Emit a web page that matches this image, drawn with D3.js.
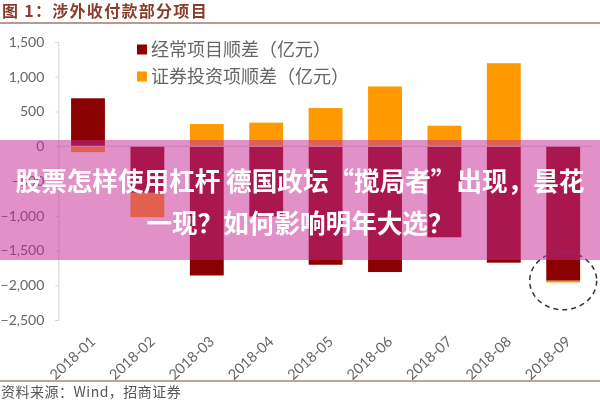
<!DOCTYPE html>
<html><head><meta charset="utf-8">
<script src="https://cdn.jsdelivr.net/npm/d3@7"></script>
<style>html,body{margin:0;padding:0;background:#fff}svg{display:block}</style>
</head><body><svg id="c" width="600" height="400"></svg>
<script>
const months = ["2018-01","2018-02","2018-03","2018-04","2018-05","2018-06","2018-07","2018-08","2018-09"];
const currentAccount = [690,-670,-1860,-1010,-1705,-1810,-1310,-1675,-1935];
const securities = [-85,-350,320,340,550,860,295,1195,-25];
const seriesNames = ["经常项目顺差（亿元）","证券投资项顺差（亿元）"];
const seriesColors = ["#8b0000","#ff9900"];
const yTicks = [1500,1000,500,0,-500,-1000,-1500,-2000,-2500];
const titleText = "图 1：涉外收付款部分项目";
const sourceText = "资料来源：Wind，招商证券";
const headline = ["股票怎样使用杠杆 德国政坛“搅局者”出现，昙花","一现？如何影响明年大选？"];

const svg = d3.select("#c");
const defs = svg.append("defs");
defs.append("filter").attr("id","soft").attr("filterUnits","userSpaceOnUse").attr("x",0).attr("y",0).attr("width",600).attr("height",400)
  .append("feGaussianBlur").attr("stdDeviation",0.45);
const chart = svg.append("g").attr("filter","url(#soft)");

const sansCJK = "'Noto Sans CJK SC','Noto Sans',sans-serif";
const latin = "Lato,'Noto Sans CJK SC',sans-serif";

const x = d3.scaleBand().domain(months).range([58.3,592.9]).paddingInner(0.43).paddingOuter(0.215);
const y = d3.scaleLinear().domain([-2500,1500]).range([320,42]);

// axes
const yAxis = d3.axisLeft(y).tickValues(yTicks).tickSize(3).tickFormat(d3.format(","));
const gy = chart.append("g").attr("transform","translate(58.3,0)").call(yAxis);
gy.selectAll("path,line").attr("stroke","#d4d4d4");
gy.selectAll("text").attr("x",-14).attr("fill","#666").style("font-family",latin).style("font-size","14px");

// stacked bars
months.forEach((m,i)=>{
  const vals = [currentAccount[i],securities[i]];
  let pos = 0, neg = 0;
  vals.forEach((v,s)=>{
    const base = v>=0 ? pos : neg;
    const end = base+v;
    if(v>=0) pos=end; else neg=end;
    chart.append("rect").attr("class","bar")
      .attr("x",x(m)).attr("width",x.bandwidth())
      .attr("y",y(Math.max(base,end))).attr("height",Math.abs(y(end)-y(base)))
      .attr("fill",seriesColors[s]);
  });
});

// zero line
chart.append("line").attr("x1",58.3).attr("x2",592.9).attr("y1",y(0)).attr("y2",y(0)).attr("stroke","#d4d4d4");

// x labels
const gx = chart.append("g");
months.forEach(m=>{
  const cx = x(m)+x.bandwidth()/2;
  gx.append("text").attr("transform",`translate(${cx+5},339) rotate(-43)`)
    .attr("text-anchor","end").attr("dy","0.35em").attr("fill","#666")
    .style("font-family",latin).style("font-size","14.5px").text(m);
});

// legend
seriesNames.forEach((n,i)=>{
  const ly = 49.5+i*27;
  chart.append("rect").attr("x",137).attr("y",ly-5).attr("width",10).attr("height",10).attr("fill",seriesColors[i]);
  chart.append("text").attr("x",151).attr("y",ly).attr("dy","0.36em").attr("fill","#666")
    .style("font-family",sansCJK).style("font-size","18px").text(n);
});

// dashed ellipse around the last bar
chart.append("ellipse").attr("cx",x("2018-09")+x.bandwidth()/2).attr("cy",y(-1935)).attr("rx",33.5).attr("ry",29)
  .attr("fill","none").attr("stroke","#2f3640").attr("stroke-width",1.5).attr("stroke-dasharray","5 4");

// title and source
chart.append("text").attr("x",2).attr("y",17).attr("fill","#8a3c2c")
  .style("font-family",sansCJK).style("font-weight",700).style("font-size","16px").style("letter-spacing","1.3px").text(titleText);
chart.append("line").attr("x1",0).attr("x2",600).attr("y1",23).attr("y2",23).attr("stroke","#a5766c").attr("stroke-width",1.4);
chart.append("line").attr("x1",0).attr("x2",600).attr("y1",381).attr("y2",381).attr("stroke","#a5857e").attr("stroke-width",1.4);
chart.append("text").attr("x",1).attr("y",397).attr("fill","#555")
  .style("font-family",sansCJK).style("font-size","14px").style("letter-spacing","0.5px").text(sourceText);

// banner
svg.append("rect").attr("x",0).attr("y",140).attr("width",600).attr("height",120).attr("fill","rgb(200,44,150)").attr("fill-opacity",0.52);
headline.forEach((t,i)=>{
  svg.append("text").attr("x",300).attr("y",182+i*42).attr("dy","0.36em").attr("text-anchor","middle").attr("fill","#fff")
    .style("font-family",sansCJK).style("font-weight",700).style("font-size","25.6px").text(t);
});
</script></body></html>
